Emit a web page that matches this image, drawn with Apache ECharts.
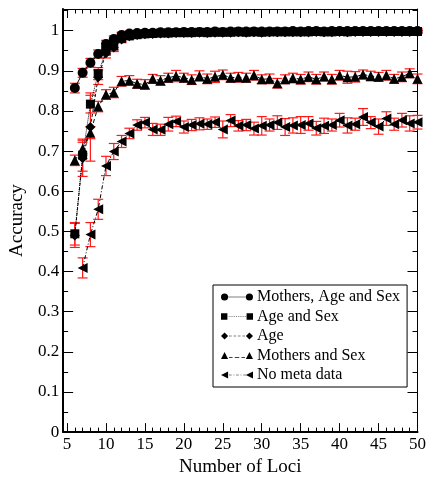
<!DOCTYPE html>
<html>
<head>
<meta charset="utf-8">
<script src="https://cdn.jsdelivr.net/npm/echarts@6/dist/echarts.min.js"></script>
<style>
html,body{margin:0;padding:0;background:#fff;}
#chart{width:429px;height:482px;}
</style>
</head>
<body>
<div id="chart"></div>
<script>
// ---------- data ----------
var lociFrom6 = [6,7,8,9,10,11,12,13,14,15,16,17,18,19,20,21,22,23,24,25,26,27,28,29,30,31,32,33,34,35,36,37,38,39,40,41,42,43,44,45,46,47,48,49,50];
var lociFrom7 = [7,8,9,10,11,12,13,14,15,16,17,18,19,20,21,22,23,24,25,26,27,28,29,30,31,32,33,34,35,36,37,38,39,40,41,42,43,44,45,46,47,48,49,50];

var seriesNames = ['Mothers, Age and Sex', 'Age and Sex', 'Age', 'Mothers and Sex', 'No meta data'];

// Mothers, Age and Sex (x = 6..50)
var motherAgeSex = [0.857,0.895,0.920,0.942,0.967,0.979,0.989,0.993,0.994,0.995,0.995,0.996,0.996,0.996,0.997,0.997,0.997,0.997,0.998,0.997,0.998,0.998,0.998,0.998,0.998,0.998,0.998,0.998,0.999,0.998,0.999,0.999,0.998,0.999,0.999,0.999,0.999,0.999,0.999,0.999,0.999,0.999,0.999,0.999,0.999];
var motherAgeSexErr = [0.012,0.011,0.011,0.010,0.009,0.008,0.007,0.006,0.006,0.006,0.006,0.006,0.006,0.006,0.006,0.006,0.006,0.006,0.006,0.006,0.006,0.006,0.006,0.006,0.006,0.006,0.006,0.006,0.006,0.006,0.006,0.006,0.006,0.006,0.006,0.006,0.006,0.006,0.006,0.006,0.006,0.006,0.006,0.006,0.006];

// Age and Sex (x = 6..50)
var ageSex = [0.494,0.690,0.817,0.893,0.950,0.962,0.981,0.987,0.990,0.992,0.993,0.994,0.994,0.995,0.995,0.995,0.996,0.995,0.996,0.996,0.996,0.997,0.996,0.997,0.996,0.997,0.997,0.997,0.997,0.997,0.997,0.998,0.997,0.997,0.998,0.997,0.998,0.998,0.998,0.998,0.998,0.998,0.998,0.998,0.998];
var ageSexErr = [0.028,0.040,0.022,0.015,0.011,0.010,0.008,0.006,0.006,0.005,0.005,0.005,0.005,0.004,0.004,0.005,0.004,0.005,0.004,0.004,0.004,0.004,0.005,0.004,0.005,0.004,0.004,0.004,0.004,0.004,0.004,0.003,0.004,0.004,0.003,0.004,0.003,0.003,0.003,0.003,0.003,0.003,0.003,0.003,0.003];

// Age (x = 6..50)
var age = [0.490,0.682,0.760,0.884,0.944,0.958,0.978,0.986,0.989,0.991,0.992,0.993,0.993,0.994,0.994,0.994,0.995,0.994,0.995,0.995,0.995,0.996,0.995,0.996,0.995,0.996,0.996,0.996,0.996,0.996,0.996,0.997,0.996,0.996,0.997,0.996,0.997,0.997,0.997,0.997,0.997,0.997,0.997,0.997,0.997];
var ageErr = [0.030,0.045,0.085,0.018,0.012,0.010,0.008,0.007,0.006,0.006,0.005,0.005,0.005,0.005,0.005,0.005,0.004,0.005,0.004,0.004,0.004,0.004,0.005,0.004,0.005,0.004,0.004,0.004,0.004,0.004,0.004,0.004,0.004,0.004,0.004,0.004,0.004,0.004,0.004,0.004,0.004,0.004,0.004,0.004,0.004];

// Mothers and Sex (x = 6..50)
var motherSex = [0.677,0.706,0.746,0.811,0.841,0.846,0.874,0.876,0.868,0.866,0.880,0.876,0.883,0.887,0.883,0.878,0.887,0.880,0.885,0.890,0.883,0.884,0.883,0.889,0.879,0.880,0.869,0.879,0.882,0.879,0.885,0.879,0.886,0.879,0.889,0.884,0.885,0.891,0.887,0.885,0.889,0.880,0.885,0.894,0.880];
var motherSexErr = [0.013,0.016,0.015,0.013,0.012,0.013,0.012,0.012,0.011,0.012,0.011,0.012,0.011,0.014,0.011,0.012,0.013,0.012,0.014,0.012,0.011,0.012,0.011,0.012,0.011,0.012,0.012,0.011,0.012,0.012,0.012,0.012,0.011,0.012,0.012,0.015,0.013,0.011,0.012,0.011,0.012,0.011,0.012,0.011,0.012];

// No meta data (x = 7..50)
var noMeta = [0.409,0.492,0.555,0.663,0.699,0.724,0.744,0.765,0.771,0.754,0.753,0.767,0.774,0.760,0.765,0.768,0.767,0.772,0.754,0.776,0.763,0.765,0.756,0.763,0.765,0.771,0.760,0.764,0.765,0.769,0.757,0.763,0.765,0.777,0.764,0.767,0.785,0.771,0.761,0.781,0.767,0.777,0.769,0.772];
var noMetaErr = [0.025,0.030,0.025,0.024,0.020,0.015,0.013,0.013,0.013,0.015,0.014,0.017,0.013,0.015,0.014,0.015,0.013,0.013,0.021,0.015,0.013,0.014,0.016,0.023,0.015,0.017,0.021,0.019,0.021,0.017,0.017,0.019,0.015,0.017,0.019,0.015,0.021,0.015,0.019,0.017,0.015,0.017,0.019,0.017];

// tick labels
var xMajorTicks = [5,10,15,20,25,30,35,40,45,50];
var xMinorTicks = [5,6,7,8,9,10,11,12,13,14,15,16,17,18,19,20,21,22,23,24,25,26,27,28,29,30,31,32,33,34,35,36,37,38,39,40,41,42,43,44,45,46,47,48,49,50];
var yMajorTicks = [0,0.1,0.2,0.3,0.4,0.5,0.6,0.7,0.8,0.9,1];
var yMinorTicks = [0.05,0.15,0.25,0.35,0.45,0.55,0.65,0.75,0.85,0.95,1.05];

// ---------- chart ----------
var FONT = '"Liberation Serif", "Times New Roman", serif';
var X_MIN = 4.5, X_MAX = 50, Y_MIN = 0, Y_MAX = 1.054;

function pairs(xs, ys) { return xs.map(function (x, i) { return [x, ys[i]]; }); }
function errData(xs, ys, es) { return xs.map(function (x, i) { return [x, ys[i] - es[i], ys[i] + es[i]]; }); }

function makeX(pos, ticks, len, showLine, showLabel, lineW) {
  return {
    type: 'value', position: pos, min: X_MIN, max: X_MAX,
    axisLine: { show: showLine, onZero: false, lineStyle: { color: '#000', width: lineW } },
    axisTick: { show: true, inside: true, length: len, customValues: ticks, lineStyle: { color: '#000', width: 1 } },
    axisLabel: { show: showLabel, customValues: ticks, margin: 4, color: '#000', fontFamily: FONT, fontSize: 17 },
    splitLine: { show: false }
  };
}
function makeY(pos, ticks, len, showLine, showLabel, lineW) {
  return {
    type: 'value', position: pos, min: Y_MIN, max: Y_MAX,
    axisLine: { show: showLine, onZero: false, lineStyle: { color: '#000', width: lineW } },
    axisTick: { show: true, inside: true, length: len, customValues: ticks, lineStyle: { color: '#000', width: 1 } },
    axisLabel: { show: showLabel, customValues: ticks, margin: 4, color: '#000', fontFamily: FONT, fontSize: 17,
      formatter: function (v) { return String(Math.round(v * 10) / 10); } },
    splitLine: { show: false }
  };
}

var xAxes = [
  makeX('bottom', xMajorTicks, 9, true, true, 2),
  makeX('bottom', xMinorTicks, 4.5, false, false, 1),
  makeX('top', xMajorTicks, 9, true, false, 1),
  makeX('top', xMinorTicks, 4.5, false, false, 1)
];
xAxes[0].name = 'Number of Loci';
xAxes[0].nameLocation = 'middle';
xAxes[0].nameGap = 17;
xAxes[0].nameTextStyle = { color: '#000', fontFamily: FONT, fontSize: 19 };

var yAxes = [
  makeY('left', yMajorTicks, 10, true, true, 2),
  makeY('left', yMinorTicks, 5, false, false, 1),
  makeY('right', yMajorTicks, 10, true, false, 1),
  makeY('right', yMinorTicks, 5, false, false, 1)
];
yAxes[0].name = 'Accuracy';
yAxes[0].nameLocation = 'middle';
yAxes[0].nameRotate = 90;
yAxes[0].nameGap = 30;
yAxes[0].nameTextStyle = { color: '#000', fontFamily: FONT, fontSize: 19 };

function lineSeries(name, xs, ys, symbol, size, dash) {
  return {
    name: name, type: 'line', xAxisIndex: 0, yAxisIndex: 0,
    data: pairs(xs, ys), symbol: symbol, symbolSize: size, showSymbol: true,
    itemStyle: { color: '#000' },
    lineStyle: { color: '#000', width: 1, type: dash },
    emphasis: { disabled: true }, animation: false, z: 3
  };
}
function errSeries(xs, ys, es) {
  return {
    type: 'custom', xAxisIndex: 0, yAxisIndex: 0,
    data: errData(xs, ys, es), animation: false, z: 2, silent: true,
    encode: { x: 0, y: [1, 2] },
    renderItem: function (params, api) {
      var lo = api.coord([api.value(0), api.value(1)]);
      var hi = api.coord([api.value(0), api.value(2)]);
      var w = 5;
      var st = { stroke: '#ff1a1a', lineWidth: 1.2 };
      return { type: 'group', children: [
        { type: 'line', shape: { x1: lo[0], y1: lo[1], x2: hi[0], y2: hi[1] }, style: st },
        { type: 'line', shape: { x1: lo[0] - w, y1: lo[1], x2: lo[0] + w, y2: lo[1] }, style: st },
        { type: 'line', shape: { x1: hi[0] - w, y1: hi[1], x2: hi[0] + w, y2: hi[1] }, style: st }
      ]};
    }
  };
}

// legend icons (line pattern between two symbols), drawn in a 36 x 8 box
var iconCircle = 'path://M0,4A4,4,0,1,0,8,4A4,4,0,1,0,0,4ZM28,4A4,4,0,1,0,36,4A4,4,0,1,0,28,4ZM8,3.6H28V4.4H8Z';
var iconSquare = 'path://M0.5,0.5H7.5V7.5H0.5ZM28.5,0.5H35.5V7.5H28.5ZM9,3.6H10V4.4H9ZM11,3.6H12V4.4H11ZM13,3.6H14V4.4H13ZM15,3.6H16V4.4H15ZM17,3.6H18V4.4H17ZM19,3.6H20V4.4H19ZM21,3.6H22V4.4H21ZM23,3.6H24V4.4H23ZM25,3.6H26V4.4H25ZM27,3.6H28V4.4H27Z';
var iconDiamond = 'path://M4,0L8,4L4,8L0,4ZM32,0L36,4L32,8L28,4ZM9,3.6H12V4.4H9ZM14,3.6H17V4.4H14ZM19,3.6H22V4.4H19ZM24,3.6H27V4.4H24Z';
var iconTri = 'path://M4,0L8,8L0,8ZM32,0L36,8L28,8ZM9,5.6H13V6.4H9ZM15.5,5.6H20.5V6.4H15.5ZM23,5.6H27V6.4H23Z';
var iconLeft = 'path://M0,4L8,0L8,8ZM28,4L36,0L36,8ZM9,3.6H12V4.4H9ZM14,3.6H15V4.4H14ZM17,3.6H20V4.4H17ZM22,3.6H23V4.4H22ZM25,3.6H28V4.4H25Z';

var option = {
  backgroundColor: '#fff',
  animation: false,
  grid: { left: 56, right: 8, top: 9, bottom: 41, containLabel: false },
  xAxis: xAxes,
  yAxis: yAxes,
  legend: {
    orient: 'vertical', left: 213, top: 285,
    backgroundColor: '#fff', borderColor: '#000', borderWidth: 1, borderRadius: 0,
    padding: [4, 7, 4, 8], itemGap: 3.5, itemWidth: 32, itemHeight: 7.2,
    selectedMode: false,
    textStyle: { color: '#000', fontFamily: FONT, fontSize: 16, lineHeight: 15, padding: [0, 0, 0, -1] },
    data: [
      { name: seriesNames[0], icon: iconCircle },
      { name: seriesNames[1], icon: iconSquare },
      { name: seriesNames[2], icon: iconDiamond },
      { name: seriesNames[3], icon: iconTri },
      { name: seriesNames[4], icon: iconLeft }
    ]
  },
  series: [
    errSeries(lociFrom7, noMeta, noMetaErr),
    errSeries(lociFrom6, motherSex, motherSexErr),
    errSeries(lociFrom6, age, ageErr),
    errSeries(lociFrom6, ageSex, ageSexErr),
    errSeries(lociFrom6, motherAgeSex, motherAgeSexErr),
    lineSeries(seriesNames[4], lociFrom7, noMeta, 'triangle', 10, [4, 2, 1, 2]),
    lineSeries(seriesNames[3], lociFrom6, motherSex, 'triangle', 10, [4, 3]),
    lineSeries(seriesNames[2], lociFrom6, age, 'diamond', 10, [3, 2]),
    lineSeries(seriesNames[1], lociFrom6, ageSex, 'rect', 9, [1, 1]),
    lineSeries(seriesNames[0], lociFrom6, motherAgeSex, 'circle', 10, 'solid')
  ]
};
option.series[5].symbolRotate = 90;

var chart = echarts.init(document.getElementById('chart'), null, { renderer: 'canvas' });
chart.setOption(option);
</script>
</body>
</html>
